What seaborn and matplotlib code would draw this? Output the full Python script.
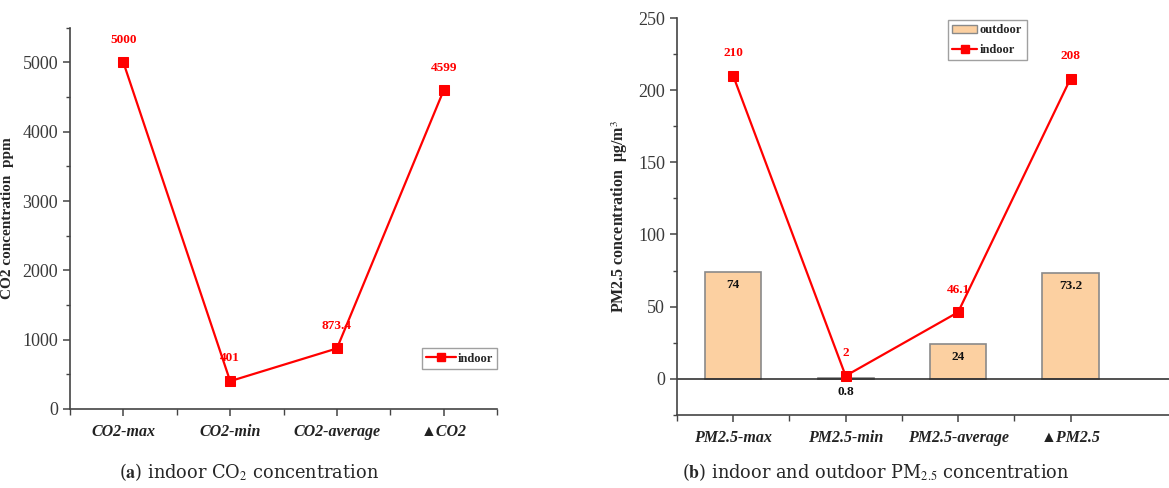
import numpy as np
import pandas as pd
import matplotlib
matplotlib.use('Agg')
import matplotlib.pyplot as plt
from matplotlib.ticker import MultipleLocator, FixedLocator
from matplotlib.lines import Line2D
from matplotlib.patches import Patch
import seaborn as sns

# data
co2_cats = ['CO2-max', 'CO2-min', 'CO2-average', '\u25b2CO2']
co2_indoor = [5000, 401, 873.4, 4599]
co2_labels = ['5000', '401', '873.4', '4599']

pm_cats = ['PM2.5-max', 'PM2.5-min', 'PM2.5-average', '\u25b2PM2.5']
pm_indoor = [210, 2, 46.1, 208]
pm_indoor_labels = ['210', '2', '46.1', '208']
pm_outdoor = [74, 0.8, 24, 73.2]
pm_outdoor_labels = ['74', '0.8', '24', '73.2']

sns.set_style('ticks')
plt.rcParams['font.family'] = ['Liberation Serif', 'DejaVu Serif']
plt.rcParams['mathtext.fontset'] = 'stix'

RED = '#ff0000'
PEACH = '#fcd0a1'
AXC = '#444444'

fig = plt.figure(figsize=(11.69, 4.88), dpi=100)
ax1 = fig.add_axes([0.0599, 0.162, 0.3653, 0.781])
ax2 = fig.add_axes([0.5791, 0.150, 0.4209, 0.813])


def style_axes(ax):
    for s in ['top', 'right']:
        ax.spines[s].set_visible(False)
    for s in ['left', 'bottom']:
        ax.spines[s].set_color(AXC)
        ax.spines[s].set_linewidth(1.2)
    ax.tick_params(axis='y', which='major', length=5, width=1.1, color=AXC,
                   labelsize=13, labelcolor='#3a3a3a', direction='out')
    ax.tick_params(axis='y', which='minor', length=3, width=1.0, color=AXC, direction='out')
    ax.tick_params(axis='x', which='major', length=5, width=1.1, color=AXC, pad=6)
    ax.tick_params(axis='x', which='minor', length=4, width=1.0, color=AXC)
    for lbl in ax.get_xticklabels():
        lbl.set_fontweight('bold')
        lbl.set_fontstyle('italic')
        lbl.set_fontsize(11.5)
        lbl.set_color('#222222')
    ax.set_xlabel('')


# (a) CO2
df_co2 = pd.DataFrame({'cat': co2_cats, 'indoor': co2_indoor})
sns.lineplot(data=df_co2, x='cat', y='indoor', ax=ax1, color=RED, lw=1.6,
             marker='s', markersize=6.5, markeredgecolor=RED, sort=False)
ax1.set_xlim(-0.5, 3.5)
ax1.set_ylim(0, 5500)
ax1.yaxis.set_major_locator(MultipleLocator(1000))
ax1.yaxis.set_minor_locator(MultipleLocator(500))
ax1.xaxis.set_minor_locator(FixedLocator([-0.5, 0.5, 1.5, 2.5, 3.5]))
ax1.set_ylabel('CO2 concentration  ppm', fontsize=11, fontweight='bold', labelpad=6)
for i, (v, t) in enumerate(zip(co2_indoor, co2_labels)):
    ax1.annotate(t, (i, v), xytext=(0, 12), textcoords='offset points', ha='center',
                 va='bottom', color=RED, fontsize=9.5, fontweight='bold')
style_axes(ax1)
ax1.legend(handles=[Line2D([0], [0], color=RED, lw=1.6, marker='s', markersize=6)],
           labels=['indoor'], loc='lower right', bbox_to_anchor=(1.0, 0.105),
           frameon=True, fancybox=False, edgecolor='#888888',
           prop={'weight': 'bold', 'size': 9}, handlelength=2.4, handletextpad=0.1,
           borderpad=0.35, borderaxespad=0)

# (b) PM2.5
df_pm = pd.DataFrame({'cat': pm_cats, 'outdoor': pm_outdoor, 'indoor': pm_indoor})
sns.barplot(data=df_pm, x='cat', y='outdoor', ax=ax2, color=PEACH, width=0.5,
            edgecolor='#8a8a8a', linewidth=1.2, saturation=1)
sns.lineplot(data=df_pm, x='cat', y='indoor', ax=ax2, color=RED, lw=1.6,
             marker='s', markersize=6.5, markeredgecolor=RED, sort=False)
ax2.axhline(0, color='#222222', lw=1.1, zorder=1)
ax2.set_xlim(-0.5, 3.876)
ax2.set_ylim(-25, 250)
ax2.yaxis.set_major_locator(MultipleLocator(50))
ax2.yaxis.set_minor_locator(MultipleLocator(25))
ax2.xaxis.set_minor_locator(FixedLocator([-0.5, 0.5, 1.5, 2.5]))
ax2.set_ylabel('PM2.5 concentration  \u03bcg/m$^3$', fontsize=11.5, fontweight='bold', labelpad=6)
for i, (v, t) in enumerate(zip(pm_indoor, pm_indoor_labels)):
    ax2.annotate(t, (i, v), xytext=(0, 12), textcoords='offset points', ha='center',
                 va='bottom', color=RED, fontsize=9.5, fontweight='bold')
for i, (v, t) in enumerate(zip(pm_outdoor, pm_outdoor_labels)):
    ax2.annotate(t, (i, v if v > 5 else 0), xytext=(0, -5), textcoords='offset points',
                 ha='center', va='top', color='#111111', fontsize=9.5, fontweight='bold')
style_axes(ax2)
ax2.legend(handles=[Patch(facecolor=PEACH, edgecolor='#8a8a8a'),
                    Line2D([0], [0], color=RED, lw=1.6, marker='s', markersize=6)],
           labels=['outdoor', 'indoor'], loc='upper left', bbox_to_anchor=(0.551, 0.995),
           frameon=True, fancybox=False, edgecolor='#888888',
           prop={'weight': 'bold', 'size': 9}, handlelength=2.0, handletextpad=0.2,
           borderpad=0.35, labelspacing=0.6, borderaxespad=0)

# captions
fig.text(0.213, 0.02, r'($\mathbf{a}$) indoor CO$_2$ concentration', ha='center',
         fontsize=12.8, family=['DejaVu Serif'])
fig.text(0.749, 0.02, r'($\mathbf{b}$) indoor and outdoor PM$_{2.5}$ concentration',
         ha='center', fontsize=12.8, family=['DejaVu Serif'])

fig.savefig('out.png', dpi=100)
